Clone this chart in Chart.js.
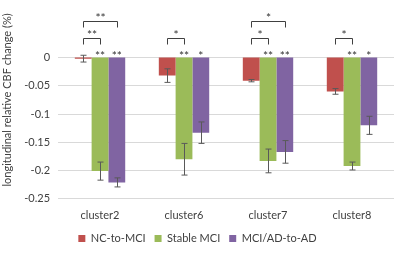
<!DOCTYPE html>
<html>
<head>
<meta charset="utf-8">
<script src="https://cdn.jsdelivr.net/npm/chart.js@4"></script>
<style>
  html, body { margin: 0; padding: 0; background: #fff; }
  #wrap { width: 400px; height: 260px; }
</style>
</head>
<body>
<div id="wrap"><canvas id="myChart" width="400" height="260"></canvas></div>
<script>
const clusters = ['cluster2', 'cluster6', 'cluster7', 'cluster8'];
const seriesNames = ['NC-to-MCI', 'Stable MCI', 'MCI/AD-to-AD'];

const ncToMci = [-0.002, -0.032, -0.041, -0.060];
const stableMci = [-0.201, -0.180, -0.183, -0.192];
const mciAdToAd = [-0.221, -0.133, -0.167, -0.120];

const errNcToMci = [0.006, 0.012, 0.002, 0.005];
const errStableMci = [0.016, 0.028, 0.021, 0.007];
const errMciAdToAd = [0.008, 0.019, 0.020, 0.016];

// stars above each bar ('' = none)
const starsNcToMci = ['', '', '', ''];
const starsStableMci = ['**', '**', '**', '**'];
const starsMciAdToAd = ['**', '*', '**', '*'];

// brackets: cluster index, series from, series to, stacking level, label
const brackets = [
	{ cluster: 0, from: 0, to: 1, level: 0, label: '**' },
	{ cluster: 0, from: 0, to: 2, level: 1, label: '**' },
	{ cluster: 1, from: 0, to: 1, level: 0, label: '*' },
	{ cluster: 2, from: 0, to: 1, level: 0, label: '*' },
	{ cluster: 2, from: 0, to: 2, level: 1, label: '*' },
	{ cluster: 3, from: 0, to: 1, level: 0, label: '*' }
];

const textColor = '#404040';
const fontFamily = 'Lato, "Open Sans", sans-serif';

const annotate = {
	id: 'annotate',
	afterDatasetsDraw(chart) {
		const c = chart.ctx;
		const y = chart.scales.y;
		const errs = [errNcToMci, errStableMci, errMciAdToAd];
		const stars = [starsNcToMci, starsStableMci, starsMciAdToAd];
		c.save();
		// error bars
		c.strokeStyle = '#595959';
		c.lineWidth = 1;
		chart.data.datasets.forEach((ds, i) => {
			const meta = chart.getDatasetMeta(i);
			meta.data.forEach((bar, j) => {
				const v = ds.data[j], e = errs[i][j];
				const x = Math.round(bar.x) + 0.5;
				const y1 = y.getPixelForValue(v + e), y2 = y.getPixelForValue(v - e);
				c.beginPath();
				c.moveTo(x, y1); c.lineTo(x, y2);
				c.moveTo(x - 3, y1); c.lineTo(x + 3, y1);
				c.moveTo(x - 3, y2); c.lineTo(x + 3, y2);
				c.stroke();
			});
		});
		// stars over bars
		c.fillStyle = '#333';
		c.font = '12px ' + fontFamily;
		c.textAlign = 'center';
		c.textBaseline = 'alphabetic';
		const zero = y.getPixelForValue(0);
		chart.data.datasets.forEach((ds, i) => {
			const meta = chart.getDatasetMeta(i);
			meta.data.forEach((bar, j) => {
				if (stars[i][j]) c.fillText(stars[i][j], bar.x, zero + 2);
			});
		});
		// brackets
		c.strokeStyle = '#404040';
		brackets.forEach(b => {
			const x1 = Math.round(chart.getDatasetMeta(b.from).data[b.cluster].x) + 0.5;
			const x2 = Math.round(chart.getDatasetMeta(b.to).data[b.cluster].x) + 0.5;
			const top = Math.round(zero - 20 - b.level * 17) + 0.5;
			c.beginPath();
			c.moveTo(x1, top + 6); c.lineTo(x1, top); c.lineTo(x2, top); c.lineTo(x2, top + 6);
			c.stroke();
			c.fillText(b.label, (x1 + x2) / 2, top);
		});
		c.restore();
	}
};

const ctx = document.getElementById('myChart').getContext('2d');

new Chart(ctx, {
	type: 'bar',
	data: {
		labels: clusters,
		datasets: [{
			label: seriesNames[0],
			data: ncToMci,
			backgroundColor: '#C0504D'
		}, {
			label: seriesNames[1],
			data: stableMci,
			backgroundColor: '#9BBB59'
		}, {
			label: seriesNames[2],
			data: mciAdToAd,
			backgroundColor: '#8064A2'
		}]
	},
	options: {
		responsive: false,
		animation: false,
		categoryPercentage: 0.6,
		barPercentage: 1,
		layout: {
			padding: { top: 1, right: 6, bottom: 6, left: 1 }
		},
		plugins: {
			tooltip: { enabled: false },
			legend: {
				position: 'bottom',
				labels: {
					boxWidth: 7,
					boxHeight: 7,
					padding: 9,
					color: textColor,
					font: { family: fontFamily, size: 11 }
				}
			}
		},
		scales: {
			x: {
				grid: { display: false },
				border: { display: false },
				ticks: {
					color: textColor,
					padding: 2,
					font: { family: fontFamily, size: 11 }
				}
			},
			y: {
				min: -0.25,
				max: 0.1,
				border: { display: false },
				grid: { color: '#d9d9d9', drawTicks: false },
				afterFit: (scale) => { scale.paddingTop = 0; scale.paddingBottom = 0; },
				ticks: {
					stepSize: 0.05,
					padding: 8,
					color: textColor,
					font: { family: fontFamily, size: 11 },
					callback: (v) => v > 1e-9 ? null : (Math.abs(v) < 1e-9 ? '0' : String(+v.toFixed(2)))
				},
				title: {
					display: true,
					text: 'longitudinal relative CBF change (%)',
					color: textColor,
					padding: { top: 0, bottom: 2 },
					font: { family: fontFamily, size: 11 }
				}
			}
		}
	},
	plugins: [annotate]
});
</script>
</body>
</html>
